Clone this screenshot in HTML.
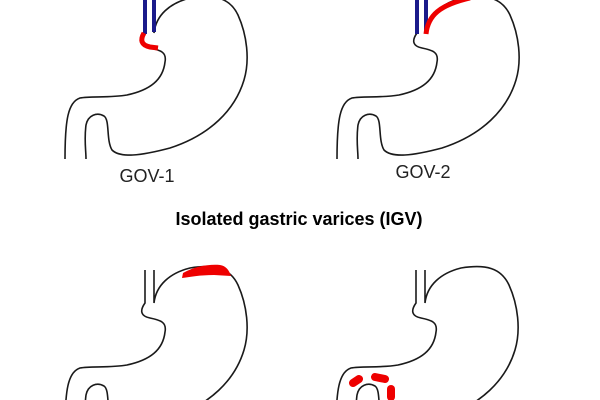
<!DOCTYPE html>
<html><head><style>html,body{margin:0;background:#fff;width:600px;height:400px;overflow:hidden}svg{display:block;overflow:hidden}</style></head>
<body>
<svg width="600" height="400" viewBox="0 0 600 400" xmlns="http://www.w3.org/2000/svg">
<defs>
<g id="st" fill="none" stroke="#1a1a1a" stroke-width="1.6">
<path d="M145,0 L145,33 C140,40 140,46 150,48 C160,50 167,52 165,62 C163,80 150,90 127,95 C110,98 90,96 80,98 C68,102 65,120 65,159"/>
<path d="M154,0 L154,33 C156,15 170,3 190,-2 C215,-6 230,-2 238,15 C247,35 250,60 244,80 C235,110 210,135 170,148 C140,156 120,158 112,150 C106,140 110,120 104,116 C97,112 88,115 86,125 C84,140 86,150 86,159"/>
</g>
</defs>
<use href="#st"/>
<use href="#st" transform="translate(272,0)"/>
<use href="#st" transform="translate(0,270)"/>
<use href="#st" transform="translate(271,270)"/>
<line x1="145" y1="0" x2="145" y2="34" stroke="#1a1a8a" stroke-width="4"/>
<line x1="154" y1="0" x2="154" y2="32" stroke="#1a1a8a" stroke-width="4"/>
<path d="M144,33 C140,40 141,45 150,47 L158,48" fill="none" stroke="#e00" stroke-width="5"/>
<line x1="417" y1="0" x2="417" y2="34" stroke="#1a1a8a" stroke-width="4"/>
<line x1="426" y1="0" x2="426" y2="32" stroke="#1a1a8a" stroke-width="4"/>
<path d="M426,34 C428,15 440,5 470,-2" fill="none" stroke="#e00" stroke-width="5"/>
<path d="M183,273 C195,266 210,264 220,265 C226,266 229,270 231,276 L214,275 C200,275 190,277 182,278 Z" fill="#e00"/>
<g stroke="#e00" stroke-width="8" stroke-linecap="round" fill="none">
<line x1="353" y1="383" x2="359" y2="379"/>
<line x1="375" y1="377" x2="385" y2="379"/>
<line x1="391" y1="389" x2="391" y2="397"/>
</g>
<g font-family="Liberation Sans, sans-serif" fill="#222">
<text x="147" y="182" font-size="18" text-anchor="middle">GOV-1</text>
<text x="423" y="178" font-size="18" text-anchor="middle">GOV-2</text>
<text x="299" y="225" font-size="18" font-weight="bold" text-anchor="middle" fill="#000">Isolated gastric varices (IGV)</text>
</g>
</svg>
</body></html>
